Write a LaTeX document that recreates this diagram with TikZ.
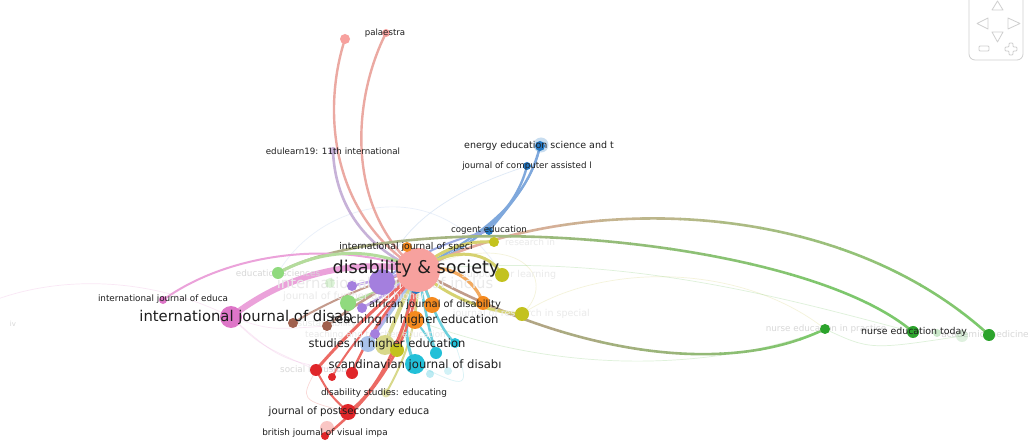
\documentclass[tikz,border=0pt]{standalone}
\usepackage{fontspec}
\setmainfont{DejaVu Sans}
\pgfdeclarelayer{bg}
\pgfdeclarelayer{edges}
\pgfsetlayers{bg,edges,main}
\definecolor{cDS}{HTML}{F7A19E}
\definecolor{cDSE}{HTML}{EBA9A2}
\definecolor{cRed}{HTML}{E0262A}
\definecolor{cRedE}{HTML}{EC6A64}
\definecolor{cPink}{HTML}{DE76C8}
\definecolor{cPinkE}{HTML}{EBA2DA}
\definecolor{cPur}{HTML}{A47FDE}
\definecolor{cPurE}{HTML}{C2A8E8}
\definecolor{cLav}{HTML}{C7B2D8}
\definecolor{cBlue}{HTML}{2478C4}
\definecolor{cBlueE}{HTML}{7FA8DC}
\definecolor{cOrange}{HTML}{F58A1F}
\definecolor{cOrangeE}{HTML}{F2AA60}
\definecolor{cOlive}{HTML}{C3C21F}
\definecolor{cOliveE}{HTML}{D6D270}
\definecolor{cOliveL}{HTML}{D8D88A}
\definecolor{cCyan}{HTML}{22C0D8}
\definecolor{cCyanE}{HTML}{6CCFDC}
\definecolor{cBrown}{HTML}{A0604E}
\definecolor{cBrownE}{HTML}{C49A8C}
\definecolor{cGreen}{HTML}{2CA32C}
\definecolor{cGreenE}{HTML}{7CC86C}
\definecolor{cTan}{HTML}{B4AE88}
\definecolor{cLGreen}{HTML}{90DA7E}
\definecolor{cLGreenE}{HTML}{B4DC9C}
\definecolor{cLBlue}{HTML}{A9C2EA}
\definecolor{cLabel}{HTML}{1E1E1E}
\definecolor{cFaint}{HTML}{D8D8D8}
\definecolor{cFainter}{HTML}{EAEAEA}
\definecolor{cNav}{HTML}{CFCFCF}
\tikzset{
  nd/.style={circle, fill=#1, inner sep=0pt, draw=none},
  lbl/.style={text=cLabel, inner sep=0pt, font=\fontsize{#1pt}{#1pt}\selectfont},
  flbl/.style={text=cFaint, inner sep=0pt, font=\fontsize{#1pt}{#1pt}\selectfont},
  e/.style={line cap=round, line width=#1},
  fe/.style={line cap=round, line width=0.7pt, opacity=0.25},
  navline/.style={draw=cNav, line width=0.8pt, line join=round}
}
\begin{document}
\begin{tikzpicture}[x=1pt,y=-1pt]
\useasboundingbox (0,0) rectangle (1028,443);
\clip (0,0) rectangle (1028,443);
\begin{pgfonlayer}{bg}
\fill[white] (0,0) rectangle (1028,443);
\end{pgfonlayer}

% ---------- nodes ----------
\node[nd=cBlue, minimum size=10pt] (bu0) at (416,289) {};
\node[nd=cPur, minimum size=26pt] (pu) at (382,282) {};
\node[nd=cDS, minimum size=44pt] (ds) at (418,270) {};
\node[nd=cOrange, minimum size=10pt] (or1) at (407,247) {};
\node[nd=cOrange, minimum size=16pt] (or2) at (432,305) {};
\node[nd=cOrange, minimum size=14pt] (or3) at (483,303) {};
\node[nd=cOlive, minimum size=14pt] (ol1) at (502,275) {};
\node[nd=cOlive, minimum size=14pt] (ol2) at (522,314) {};
\node[nd=cOlive, minimum size=10pt] (ol3) at (494,242) {};
\node[nd=cBlue, minimum size=8pt] (co) at (489,231) {};
\node[nd=cLGreen, minimum size=10pt, opacity=0.3] (lg3) at (330,283) {};
\node[nd=cLGreen, minimum size=12pt] (lg1) at (278,273) {};
\node[nd=cLGreen, minimum size=16pt] (lg2) at (348,303) {};
\node[nd=cPur, minimum size=10pt] (ps1) at (352,286) {};
\node[nd=cPur, minimum size=10pt] (ps2) at (362,308) {};
\node[nd=cBrown, minimum size=10pt] (br1) at (293,323) {};
\node[nd=cBrown, minimum size=10pt] (br2) at (327,326) {};
\node[nd=cOrange, minimum size=18pt] (or4) at (415,320) {};
\node[nd=cPur, minimum size=10pt] (ps3) at (375,334) {};
\node[nd=cPink, minimum size=22pt] (pk1) at (231,317) {};
\node[nd=cPink, minimum size=8pt] (pk2) at (163,300) {};
\node[nd=cLBlue, minimum size=16pt] (lb) at (368,344) {};
\node[nd=cOliveL, minimum size=20pt] (ol4) at (385,345) {};
\node[nd=cOlive, minimum size=14pt] (ol5) at (397,350) {};
\node[nd=cCyan, minimum size=8pt, opacity=0.3] (cy4) at (430,374) {};
\node[nd=cCyan, minimum size=8pt, opacity=0.2] (cy5) at (448,371) {};
\node[nd=cCyan, minimum size=12pt] (cy2) at (436,353) {};
\node[nd=cCyan, minimum size=10pt] (cy3) at (455,343) {};
\node[nd=cCyan, minimum size=20pt] (cy1) at (415,364) {};
\node[nd=cRed, minimum size=12pt] (rd1) at (316,370) {};
\node[nd=cRed, minimum size=8pt] (rd2) at (332,377) {};
\node[nd=cRed, minimum size=12pt] (rd3) at (352,373) {};
\node[nd=cOliveL, minimum size=9pt, opacity=0.7] (ol6) at (386,393) {};
\node[nd=cRed, minimum size=16pt] (rd4) at (348,412) {};
\node[nd=cDS, minimum size=14pt, opacity=0.6] (rd6) at (327,428) {};
\node[nd=cRed, minimum size=8pt] (rd5) at (325,436) {};
\node[nd=cDS, minimum size=10pt] (pa1) at (345,39) {};
\node[nd=cDS, minimum size=8pt] (pa2) at (386,33) {};
\node[nd=cLav, minimum size=8pt] (ed) at (333,151) {};
\node[nd=cBlue, minimum size=15pt, opacity=0.25] (enh) at (541,145) {};
\node[nd=cBlue, minimum size=10pt] (en) at (540,146) {};
\node[nd=cBlue, minimum size=8pt] (jc) at (527,166) {};
\node[nd=cGreen, minimum size=10pt] (gn1) at (825,329) {};
\node[nd=cGreen, minimum size=8pt, opacity=0.25] (gn4) at (937,333) {};
\node[nd=cGreen, minimum size=12pt, opacity=0.15] (gn5) at (962,336) {};
\node[nd=cGreen, minimum size=12pt] (gn2) at (913,332) {};
\node[nd=cGreen, minimum size=12pt] (gn3) at (989,335) {};

% ---------- edges ----------
\begin{pgfonlayer}{edges}
\coordinate (lft) at (-5,300);
% faint background edges
\draw[fe, cPinkE] (lft) .. controls (60,276) and (150,276) .. (pk1.center);
\draw[fe, cPinkE] (pk1.center) .. controls (260,345) .. (rd1.center);
\draw[fe, cPinkE] (pk1.center) .. controls (270,330) .. (br2.center);
\draw[fe, cPinkE] (pk1.center) .. controls (280,360) .. (rd3.center);
\draw[fe, cBlueE] (pu.center) .. controls (400,215) and (470,185) .. (jc.center);
\draw[fe, cLBlue] (lg1.center) .. controls (320,200) and (440,170) .. (ol1.center);
\draw[fe, cOliveE] (ol2.center) .. controls (600,262) and (740,262) .. (gn1.center);
\draw[fe, cOliveE] (ds.center) .. controls (520,225) and (560,280) .. (ol2.center);
\draw[fe, cGreenE] (ds.center) .. controls (620,250) and (790,300) .. (gn2.center);
\draw[fe, cGreenE] (or4.center) .. controls (600,390) and (760,355) .. (gn1.center);
\draw[fe, cGreenE] (gn1.center) .. controls (870,350) .. (gn5.center);
\draw[fe, cCyanE] (cy1.center) .. controls (470,390) .. (cy3.center);
\draw[fe, cRedE] (rd1.center) .. controls (300,400) .. (rd4.center);

% palaestra / edulearn
\draw[e=2.4pt, cDSE] (ds.center) .. controls (330,215) and (322,110) .. (pa1.center);
\draw[e=2.4pt, cDSE] (ds.center) .. controls (345,210) and (352,100) .. (pa2.center);
\draw[e=2.6pt, cLav] (ds.center) .. controls (360,245) and (335,200) .. (ed.center);
% blue
\draw[e=2.4pt, cBlueE] (ds.center) .. controls (470,240) and (525,210) .. (en.center);
\draw[e=2.4pt, cBlueE] (ds.center) .. controls (470,248) and (515,215) .. (jc.center);
\draw[e=1.8pt, cBlueE] (co.center) .. controls (515,200) and (535,175) .. (en.center);
\draw[e=2pt, cBlueE!60!cPurE] (pu.center) .. controls (420,250) and (460,238) .. (co.center);
% long gradient edges
\foreach \i in {0,...,15}{
  \pgfmathtruncatemacro\xa{400+40*\i}
  \pgfmathtruncatemacro\pp{min(100,max(0,(\xa+20-430)/5.4))}
  \pgfmathtruncatemacro\pr{min(100,max(0,(\xa+20-440)/3.8))}
  \colorlet{gA}{cGreenE!\pp!cDSE}
  \colorlet{gC}{cGreenE!\pr!cBrownE}
  \begin{scope}
    \clip (\xa,-20) rectangle ++(41,500);
    \draw[e=2.6pt, gA] (ds.center) .. controls (560,195) and (830,190) .. (gn3.center);
    \draw[e=2.6pt, gC] (ds.center) .. controls (560,350) and (720,380) .. (gn1.center);
  \end{scope}
}
\foreach \i in {0,...,18}{
  \pgfmathtruncatemacro\xa{270+40*\i}
  \pgfmathtruncatemacro\pq{min(100,max(0,(\xa+20-300)/5.6))}
  \colorlet{gB}{cGreenE!\pq!cTan}
  \begin{scope}
    \clip (\xa,-20) rectangle ++(41,500);
    \draw[e=2.6pt, gB] (lg1.center) .. controls (400,205) and (800,235) .. (gn2.center);
  \end{scope}
}
% pink
\draw[e=6pt, cPinkE] (pk1.center) .. controls (285,275) and (350,258) .. (ds.center);
\draw[e=2pt, cPinkE] (pk2.center) .. controls (225,255) and (330,238) .. (ds.center);
% light green
\draw[e=3pt, cLGreenE] (lg1.center) .. controls (320,250) and (370,245) .. (ds.center);
\draw[e=3pt, cLGreenE] (lg2.center) .. controls (370,295) and (395,285) .. (ds.center);
% orange
\draw[e=3.2pt, cOrangeE] (ds.center) .. controls (450,262) and (475,280) .. (or3.center);
\draw[e=2.5pt, cOrangeE] (ds.center) -- (or2.center);
\draw[e=2.5pt, cOrangeE] (ds.center) -- (or4.center);
\draw[e=2.5pt, cOrangeE] (or1.center) -- (ds.center);
% olive
\draw[e=3pt, cOliveE] (ds.center) .. controls (450,300) and (490,312) .. (ol2.center);
\draw[e=3pt, cOliveE] (ds.center) .. controls (455,245) and (490,252) .. (ol1.center);
\draw[e=3pt, cOliveE] (ds.center) .. controls (440,250) and (465,240) .. (ol3.center);
\draw[e=4pt, cOliveL] (ol4.center) .. controls (395,320) and (405,295) .. (ds.center);
\draw[e=2pt, cOliveL] (ol6.center) .. controls (405,360) and (420,320) .. (ds.center);
\draw[e=2.5pt, cOliveE] (ol5.center) .. controls (405,320) .. (ds.center);
% cyan
\draw[e=3pt, cCyanE] (ds.center) .. controls (405,305) and (402,340) .. (cy1.center);
\draw[e=2.5pt, cCyanE] (ds.center) .. controls (430,300) and (440,330) .. (cy3.center);
\draw[e=2.5pt, cCyanE] (ds.center) .. controls (425,310) and (430,335) .. (cy2.center);
\draw[e=2pt, cCyanE] (or4.center) .. controls (430,340) .. (cy2.center);
% light blue
\draw[e=3pt, cLBlue] (lb.center) .. controls (385,320) and (400,300) .. (ds.center);
% brown
\draw[e=2.5pt, cBrownE] (br2.center) .. controls (360,300) and (390,285) .. (ds.center);
\draw[e=2pt, cBrownE] (br1.center) .. controls (330,300) and (380,280) .. (ds.center);
% purple
\draw[e=2.5pt, cPurE] (ps1.center) -- (ds.center);
\draw[e=2.5pt, cPurE] (ps2.center) .. controls (385,295) .. (ds.center);
\draw[e=2.5pt, cPurE] (ps3.center) .. controls (395,300) .. (ds.center);
% red
\draw[e=3pt, cRedE] (ds.center) .. controls (405,340) and (375,395) .. (rd4.center);
\draw[e=2.5pt, cRedE] (ds.center) .. controls (415,350) and (360,410) .. (rd5.center);
\draw[e=3pt, cRedE] (rd1.center) .. controls (350,330) and (385,300) .. (ds.center);
\draw[e=2.5pt, cRedE] (rd3.center) .. controls (370,330) and (395,300) .. (ds.center);
\draw[e=2pt, cRedE] (rd2.center) .. controls (355,335) and (390,305) .. (ds.center);
\draw[e=2pt, cRedE] (rd4.center) .. controls (330,395) .. (rd1.center);

% faint labels (behind nodes)
\node[flbl=8.8] (fl1) at (278,273) {education sciences};
\node[flbl=14.8, text=cFainter] (fl2) at (385,284) {international journal of inclus};
\node[flbl=10, text=cFainter, anchor=west] (fl3) at (283,297) {journal of further and higher};
\node[flbl=8.8, text=cFainter] (fl4) at (327,324) {sustainability};
\node[flbl=8.8, text=cFainter, anchor=west] (fl5) at (305,335) {teaching and teacher education};
\node[flbl=8.8, anchor=west] (fl6) at (280,369) {social inclusion};
\node[flbl=9, text=cFainter, anchor=west] (fl7) at (505,242) {research in};
\node[flbl=9.5, text=cFainter] (fl8) at (509,275) {support for learning};
\node[flbl=9.5, text=cFainter, anchor=east] (fl9) at (590,314) {journal of research in special};
\node[flbl=8.8] (fl10) at (826,329) {nurse education in practice};
\node[flbl=9] (fl11) at (985,334) {academic medicine};
\node[flbl=7] (fl12) at (13,324) {iv};
\end{pgfonlayer}

% ---------- labels ----------
\node[lbl=17.6] (tds) at (416,269) {disability \& society};
\node[lbl=14.8] (tpk1) at (246,317) {international journal of disab};
\node[lbl=11.6] (tor4) at (415,320) {teaching in higher education};
\node[lbl=11.5] (tlb) at (387,344) {studies in higher education};
\node[lbl=11.6] (tcy1) at (415,365) {scandinavian journal of disab\i};
\node[lbl=10.2] (trd4) at (349,412) {journal of postsecondary educa};
\node[lbl=9.9] (tor2) at (435,305) {african journal of disability};
\node[lbl=8.9] (tol6) at (384,393) {disability studies: educating};
\node[lbl=8.8] (trd5) at (325,433) {british journal of visual impa};
\node[lbl=8.8] (tpk2) at (163,299) {international journal of educa};
\node[lbl=8.6] (tpa2) at (385,33) {palaestra};
\node[lbl=8.7] (ted) at (333,151) {edulearn19: 11th international};
\node[lbl=9.5] (ten) at (539,146) {energy education science and t};
\node[lbl=8.7] (tjc) at (527,166) {journal of computer assisted l};
\node[lbl=8.7] (tco) at (489,230) {cogent education};
\node[lbl=9.3] (tor1) at (406,247) {international journal of speci};
\node[lbl=9.4] (tgn2) at (914,332) {nurse education today};

% ---------- navigation widget ----------
\draw[navline, rounded corners=6pt] (969,-10) rectangle (1023,60);
\draw[navline] (992,10) -- (997.5,1) -- (1003,10) -- cycle;
\draw[navline] (988,18) -- (977,23.5) -- (988,29) -- cycle;
\draw[navline] (1008,18) -- (1020,23.5) -- (1008,29) -- cycle;
\draw[navline] (992,32) -- (1003,32) -- (997.5,42) -- cycle;
\draw[navline, rounded corners=1pt] (979,46) rectangle (989,51);
\draw[navline, rounded corners=1pt] (1009,43) -- (1013,43) -- (1013,47) -- (1017,47) -- (1017,51) -- (1013,51) -- (1013,55) -- (1009,55) -- (1009,51) -- (1005,51) -- (1005,47) -- (1009,47) -- cycle;
\end{tikzpicture}
\end{document}
